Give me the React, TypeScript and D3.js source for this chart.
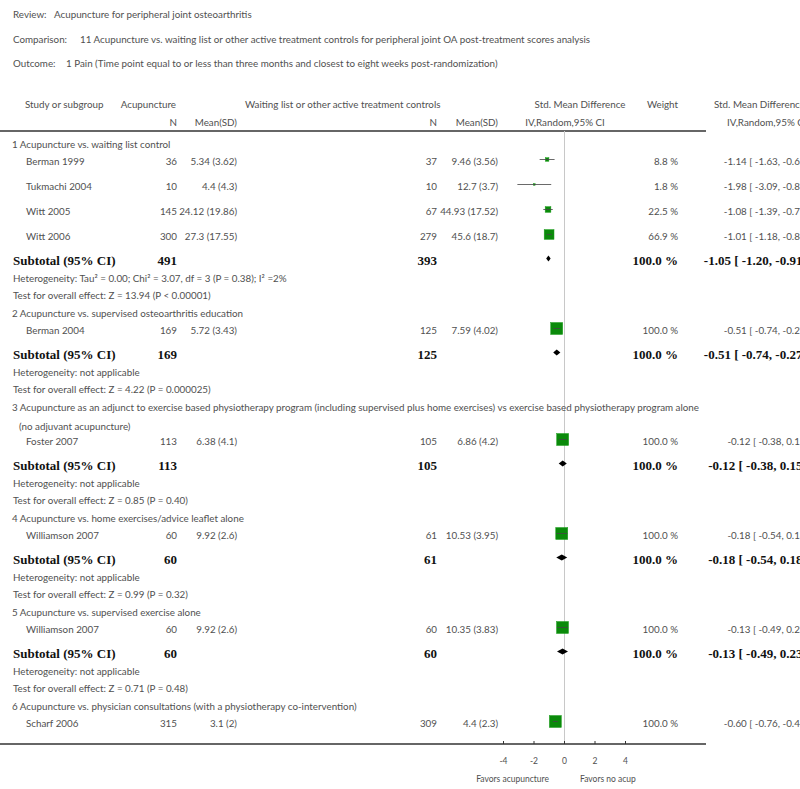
import React from "react";
import { scaleLinear, scaleSqrt } from "d3";

// header lines of the review
const reviewLabels = ["Review:", "Comparison:", "Outcome:"];
const reviewValues = [
  "Acupuncture for peripheral joint osteoarthritis",
  "11 Acupuncture vs. waiting list or other active treatment controls for peripheral joint OA post-treatment scores analysis",
  "1 Pain (Time point equal to or less than three months and closest to eight weeks post-randomization)",
];

// individual studies
const studyNames = ["Berman 1999", "Tukmachi 2004", "Witt 2005", "Witt 2006", "Berman 2004", "Foster 2007", "Williamson 2007", "Williamson 2007", "Scharf 2006"];
const studyGroup = [0, 0, 0, 0, 1, 2, 3, 4, 5];
const acuN = [36, 10, 145, 300, 169, 113, 60, 60, 315];
const acuMeanSD = ["5.34 (3.62)", "4.4 (4.3)", "24.12 (19.86)", "27.3 (17.55)", "5.72 (3.43)", "6.38 (4.1)", "9.92 (2.6)", "9.92 (2.6)", "3.1 (2)"];
const ctlN = [37, 10, 67, 279, 125, 105, 61, 60, 309];
const ctlMeanSD = ["9.46 (3.56)", "12.7 (3.7)", "44.93 (17.52)", "45.6 (18.7)", "7.59 (4.02)", "6.86 (4.2)", "10.53 (3.95)", "10.35 (3.83)", "4.4 (2.3)"];
const weights = [8.8, 1.8, 22.5, 66.9, 100, 100, 100, 100, 100];
const smd = [-1.14, -1.98, -1.08, -1.01, -0.51, -0.12, -0.18, -0.13, -0.6];
const ciLow = [-1.63, -3.09, -1.39, -1.18, -0.74, -0.38, -0.54, -0.49, -0.76];
const ciHigh = [-0.65, -0.87, -0.77, -0.84, -0.27, 0.15, 0.18, 0.23, -0.44];

// subgroups
const groupTitles = [
  "1 Acupuncture vs. waiting list control",
  "2 Acupuncture vs. supervised osteoarthritis education",
  "3 Acupuncture as an adjunct to exercise based physiotherapy program (including supervised plus home exercises) vs exercise based physiotherapy program alone",
  "4 Acupuncture vs. home exercises/advice leaflet alone",
  "5 Acupuncture vs. supervised exercise alone",
  "6 Acupuncture vs. physician consultations (with a physiotherapy co-intervention)",
];
const groupTitleMore = ["", "", "(no adjuvant acupuncture)", "", "", ""];
const subAcuN = [491, 169, 113, 60, 60];
const subCtlN = [393, 125, 105, 61, 60];
const subSmd = [-1.05, -0.51, -0.12, -0.18, -0.13];
const subLow = [-1.2, -0.74, -0.38, -0.54, -0.49];
const subHigh = [-0.91, -0.27, 0.15, 0.18, 0.23];
const heterogeneity = [
  "Heterogeneity: Tau² = 0.00; Chi² = 3.07, df = 3 (P = 0.38); I² =2%",
  "Heterogeneity: not applicable",
  "Heterogeneity: not applicable",
  "Heterogeneity: not applicable",
  "Heterogeneity: not applicable",
];
const overallTests = [
  "Test for overall effect: Z = 13.94 (P < 0.00001)",
  "Test for overall effect: Z = 4.22 (P = 0.000025)",
  "Test for overall effect: Z = 0.85 (P = 0.40)",
  "Test for overall effect: Z = 0.99 (P = 0.32)",
  "Test for overall effect: Z = 0.71 (P = 0.48)",
];

const axisTicks = [-4, -2, 0, 2, 4];
const favorsLeft = "Favors acupuncture";
const favorsRight = "Favors no acup";

const W = 800;
const H = 789;
const sans = "Lato, 'Open Sans', sans-serif";
const serif = "'Liberation Serif', 'DejaVu Serif', serif";
const grey = "#505050";
const fs = 9.8;

const fmt = (v: number) => v.toFixed(2);
const ciText = (m: number, lo: number, hi: number) => `${fmt(m)} [ ${fmt(lo)}, ${fmt(hi)} ]`;

type Row = { kind: string; y: number; idx: number };

// vertical layout of the table rows
function buildRows(): Row[] {
  const rows: Row[] = [];
  let y = 144;
  groupTitles.forEach((_, g) => {
    rows.push({ kind: "group", y, idx: g });
    if (groupTitleMore[g]) {
      y += 19;
      rows.push({ kind: "groupMore", y, idx: g });
      y -= 2;
    }
    studyNames.forEach((_, i) => {
      if (studyGroup[i] !== g) return;
      const prev = rows[rows.length - 1].kind;
      y += prev === "study" ? 25 : 17;
      rows.push({ kind: "study", y, idx: i });
    });
    if (g < subAcuN.length) {
      y += 24;
      rows.push({ kind: "subtotal", y, idx: g });
      y += 18;
      rows.push({ kind: "het", y, idx: g });
      y += 17;
      rows.push({ kind: "test", y, idx: g });
      y += 18;
    }
  });
  return rows;
}

export default function App() {
  const x = scaleLinear().domain([-4, 4]).range([503.5, 625.5]);
  const boxSize = scaleSqrt().domain([0, 100]).range([0, 12]);
  const rows = buildRows();
  const axisY = 744;
  const topLine = 131;

  const colAcuN = 177;
  const colAcuMean = 237;
  const colCtlN = 437;
  const colCtlMean = 498;
  const colWeight = 678;
  const colEffect = 811;
  const colEffectBold = 810;
  const valueX = [54, 80, 66];

  return (
    <div style={{ position: "absolute", left: 0, top: 0 }}>
      <svg width={W} height={H} style={{ display: "block", background: "#fff" }}>
        {reviewLabels.map((l, i) => (
          <g key={i} fontFamily={sans} fontSize={fs} fill={grey} dominantBaseline="central">
            <text x={13} y={14 + i * 24.5}>{l}</text>
            <text x={valueX[i]} y={14 + i * 24.5}>{reviewValues[i]}</text>
          </g>
        ))}

        {/* column headers */}
        <g fontFamily={sans} fontSize={fs} fill={grey} dominantBaseline="central">
          <text x={25} y={104}>Study or subgroup</text>
          <text x={176} y={104} textAnchor="end">Acupuncture</text>
          <text x={245} y={104}>Waiting list or other active treatment controls</text>
          <text x={580} y={104} textAnchor="middle">Std. Mean Difference</text>
          <text x={678} y={104} textAnchor="end">Weight</text>
          <text x={714} y={104}>Std. Mean Difference</text>
          <text x={colAcuN} y={122} textAnchor="end">N</text>
          <text x={colAcuMean} y={122} textAnchor="end">Mean(SD)</text>
          <text x={colCtlN} y={122} textAnchor="end">N</text>
          <text x={colCtlMean} y={122} textAnchor="end">Mean(SD)</text>
          <text x={565} y={122} textAnchor="middle">IV,Random,95% CI</text>
          <text x={727} y={122}>IV,Random,95% CI</text>
        </g>
        <line x1={0} x2={706} y1={topLine} y2={topLine} stroke="#333" strokeWidth={1.5} />

        {/* line of no effect */}
        <line x1={x(0)} x2={x(0)} y1={topLine} y2={axisY} stroke="#c8c8c8" strokeWidth={1} />

        {rows.map((r, k) => {
          if (r.kind === "group")
            return (
              <text key={k} x={12} y={r.y} dominantBaseline="central" fontFamily={sans} fontSize={fs} fill={grey}>
                {groupTitles[r.idx]}
              </text>
            );
          if (r.kind === "groupMore")
            return (
              <text key={k} x={19} y={r.y} dominantBaseline="central" fontFamily={sans} fontSize={fs} fill={grey}>
                {groupTitleMore[r.idx]}
              </text>
            );
          if (r.kind === "het" || r.kind === "test")
            return (
              <text key={k} x={13} y={r.y} dominantBaseline="central" fontFamily={sans} fontSize={fs} fill={grey}>
                {r.kind === "het" ? heterogeneity[r.idx] : overallTests[r.idx]}
              </text>
            );
          if (r.kind === "study") {
            const i = r.idx;
            const s = boxSize(weights[i]);
            const cy = r.y - 1.5;
            return (
              <g key={k}>
                <g fontFamily={sans} fontSize={fs} fill={grey} dominantBaseline="central">
                  <text x={26} y={r.y}>{studyNames[i]}</text>
                  <text x={colAcuN} y={r.y} textAnchor="end">{acuN[i]}</text>
                  <text x={colAcuMean} y={r.y} textAnchor="end">{acuMeanSD[i]}</text>
                  <text x={colCtlN} y={r.y} textAnchor="end">{ctlN[i]}</text>
                  <text x={colCtlMean} y={r.y} textAnchor="end">{ctlMeanSD[i]}</text>
                  <text x={colWeight} y={r.y} textAnchor="end">{weights[i].toFixed(1)} %</text>
                  <text x={colEffect} y={r.y} textAnchor="end">{ciText(smd[i], ciLow[i], ciHigh[i])}</text>
                </g>
                <rect x={x(smd[i]) - s / 2} y={cy - s / 2} width={s} height={s} fill="#0a8a0a" stroke="#1f9f1f" strokeWidth={0.5} />
                <line x1={x(ciLow[i])} x2={x(ciHigh[i])} y1={cy} y2={cy} stroke="#444" strokeWidth={0.8} />
              </g>
            );
          }
          // subtotal
          const g = r.idx;
          const cy = r.y - 1.5;
          const d = `M${x(subLow[g])},${cy} L${x(subSmd[g])},${cy - 3} L${x(subHigh[g])},${cy} L${x(subSmd[g])},${cy + 3} Z`;
          return (
            <g key={k}>
              <g fontFamily={serif} fontSize={13} fontWeight="bold" fill="#111" dominantBaseline="central">
                <text x={13} y={r.y}>Subtotal (95% CI)</text>
                <text x={colAcuN} y={r.y} textAnchor="end">{subAcuN[g]}</text>
                <text x={colCtlN} y={r.y} textAnchor="end">{subCtlN[g]}</text>
                <text x={colWeight} y={r.y} textAnchor="end">100.0 %</text>
                <text x={colEffectBold} y={r.y} textAnchor="end">{ciText(subSmd[g], subLow[g], subHigh[g])}</text>
              </g>
              <path d={d} fill="#000" />
            </g>
          );
        })}

        {/* axis */}
        <line x1={0} x2={706} y1={axisY} y2={axisY} stroke="#333" strokeWidth={1.5} />
        {axisTicks.map((t) => (
          <g key={t}>
            <line x1={x(t)} x2={x(t)} y1={axisY - 3} y2={axisY} stroke="#333" strokeWidth={1} />
            <text x={x(t)} y={761} textAnchor="middle" dominantBaseline="central" fontFamily={sans} fontSize={8.5} fill={grey}>
              {t}
            </text>
          </g>
        ))}
        <text x={549} y={779} textAnchor="end" dominantBaseline="central" fontFamily={sans} fontSize={8.5} fill={grey}>
          {favorsLeft}
        </text>
        <text x={580} y={779} dominantBaseline="central" fontFamily={sans} fontSize={8.5} fill={grey}>
          {favorsRight}
        </text>
      </svg>
    </div>
  );
}
